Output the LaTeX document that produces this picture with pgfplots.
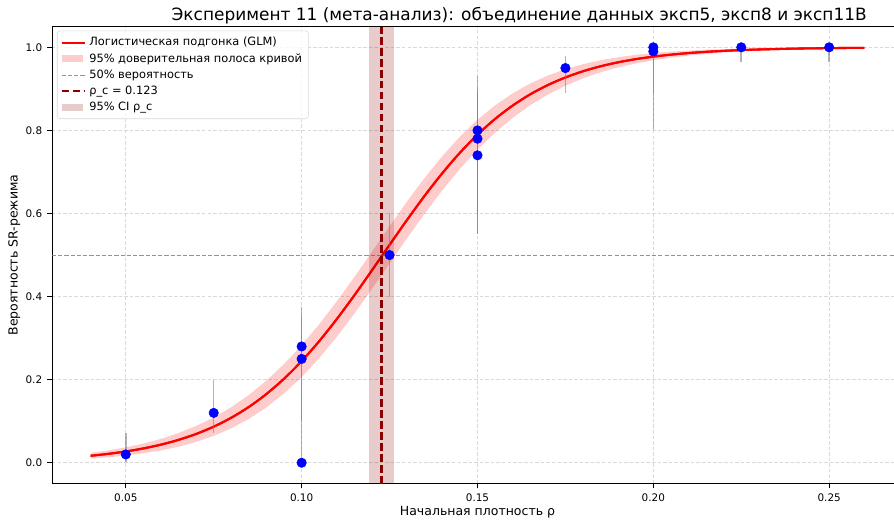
\documentclass[border=0pt]{standalone}
\usepackage{fontspec}
\setmainfont{DejaVu Sans}
\usepackage{pgfplots}
\usepackage{pgfplotstable}
\pgfplotsset{compat=1.18}
\usepgfplotslibrary{fillbetween}
\definecolor{dred}{RGB}{139,0,0}
\pgfplotstableread{
x p lo hi
0.040 0.0168 0.0100 0.0236
0.045 0.0214 0.0131 0.0297
0.050 0.0272 0.0173 0.0371
0.055 0.0345 0.0227 0.0463
0.060 0.0436 0.0297 0.0575
0.065 0.0551 0.0386 0.0716
0.070 0.0693 0.0501 0.0885
0.075 0.0869 0.0647 0.1091
0.080 0.1084 0.0830 0.1338
0.085 0.1344 0.1056 0.1632
0.090 0.1656 0.1334 0.1978
0.095 0.2023 0.1670 0.2376
0.100 0.2447 0.2064 0.2830
0.105 0.2927 0.2520 0.3334
0.110 0.3459 0.3031 0.3887
0.115 0.4032 0.3592 0.4472
0.120 0.4633 0.4185 0.5081
0.125 0.5245 0.4798 0.5692
0.130 0.5849 0.5405 0.6293
0.135 0.6429 0.5999 0.6859
0.140 0.6970 0.6558 0.7382
0.145 0.7461 0.7073 0.7849
0.150 0.7896 0.7536 0.8256
0.155 0.8275 0.7947 0.8603
0.160 0.8597 0.8302 0.8892
0.165 0.8868 0.8606 0.9130
0.170 0.9091 0.8862 0.9320
0.175 0.9274 0.9075 0.9473
0.180 0.9423 0.9253 0.9593
0.185 0.9543 0.9398 0.9688
0.190 0.9639 0.9517 0.9761
0.195 0.9715 0.9611 0.9819
0.200 0.9775 0.9688 0.9862
0.205 0.9823 0.9750 0.9896
0.210 0.9861 0.9801 0.9921
0.215 0.9891 0.9841 0.9941
0.220 0.9914 0.9874 0.9954
0.225 0.9933 0.9900 0.9966
0.230 0.9947 0.9920 0.9974
0.240 0.9968 0.9950 0.9986
0.250 0.9980 0.9968 0.9992
0.260 0.9988 0.9980 0.9996
}\curve
\pgfplotstableread{
x y ep em
0.050 0.02 0.052 0.017
0.075 0.12 0.080 0.048
0.100 0.28 0.095 0.280
0.100 0.25 0.100 0.150
0.100 0.00 0.000 0.000
0.125 0.50 0.100 0.100
0.150 0.80 0.130 0.200
0.150 0.78 0.120 0.230
0.150 0.74 0.150 0.190
0.175 0.95 0.030 0.060
0.200 1.00 0.000 0.200
0.200 0.99 0.005 0.100
0.225 1.00 0.000 0.036
0.250 1.00 0.000 0.036
}\pts
\begin{document}
\begin{tikzpicture}
\begin{axis}[
  scale only axis, width=612.7pt, height=329pt,
  xmin=0.029, xmax=0.271, ymin=-0.05, ymax=1.05,
  xtick={0.05,0.10,0.15,0.20,0.25},
  ytick={0,0.2,0.4,0.6,0.8,1.0},
  xticklabel style={/pgf/number format/.cd, fixed, fixed zerofill, precision=2},
  yticklabel style={/pgf/number format/.cd, fixed, fixed zerofill, precision=1},
  /pgf/number format/assume math mode=true,
  tick label style={font=\fontsize{7.5}{9}\selectfont},
  tick align=outside, tick pos=left,
  major tick length=3.5pt,
  every tick/.style={black, line width=0.6pt},
  axis line style={line width=0.6pt},
  grid=major,
  grid style={gray!30, line width=0.5pt, dash pattern=on 2.5pt off 1.5pt},
  title={Эксперимент 11 (мета-анализ): объединение данных эксп5, эксп8 и эксп11B},
  title style={font=\fontsize{12.2}{13}\selectfont, at={(0.549,1)}, yshift=-8pt},
  xlabel={Начальная плотность ρ},
  ylabel={Вероятность SR-режима},
  label style={font=\fontsize{9}{11}\selectfont},
  xlabel style={yshift=3pt},
  ylabel style={yshift=-3pt},
  legend style={at={(0,1)}, anchor=north west, xshift=3.6pt, yshift=-3pt,
    font=\fontsize{8.2}{9}\selectfont, draw=gray!30, rounded corners=2pt,
    fill=white, fill opacity=0.8, text opacity=1, row sep=0pt,
    inner sep=2.5pt},
  legend cell align=left,
  areaimg/.style={legend image code/.code={
    \path[##1, draw=none, sharp corners] (0pt,-2.5pt) rectangle (15pt,2.5pt);}},
]
% curve (legend, redrawn on top later)
\addplot[red, line width=1.5pt, smooth] table[x=x, y=p] {\curve};
\addlegendentry{Логистическая подгонка (GLM)}
% band
\addplot[forget plot, name path=lo, draw=none] table[x=x, y=lo] {\curve};
\addplot[forget plot, name path=hi, draw=none] table[x=x, y=hi] {\curve};
\addplot[fill=red, fill opacity=0.2, draw=none, areaimg] fill between[of=hi and lo];
\addlegendentry{95\% доверительная полоса кривой}
\addplot[forget plot, red, line width=1.5pt, smooth] table[x=x, y=p] {\curve};
% 50% line
\addplot[gray, draw opacity=0.85, line width=0.7pt, dash pattern=on 3pt off 1.5pt] coordinates {(0.029,0.5) (0.271,0.5)};
\addlegendentry{50\% вероятность}
% rho_c
\addplot[dred, line width=1.5pt, dash pattern=on 5.5pt off 2.4pt] coordinates {(0.1227,-0.05) (0.1227,1.05)};
\addlegendentry{ρ\_c = 0.123}
% CI of rho_c
\addplot[draw=none, fill=dred, fill opacity=0.2, areaimg] coordinates {(0.1192,-0.05) (0.1262,-0.05) (0.1262,1.05) (0.1192,1.05)} \closedcycle;
\addlegendentry{95\% CI ρ\_c}
% error bars
\addplot[forget plot, draw=none, mark=none,
  error bars/.cd, y dir=both, y explicit, error mark=none,
  error bar style={draw=gray, draw opacity=0.6, line width=1.1pt}]
  table[x=x, y=y, y error plus=ep, y error minus=em] {\pts};
% points
\addplot[forget plot, only marks, mark=*, mark size=3.4pt, blue, mark options={draw=blue, fill=blue}]
  table[x=x, y=y] {\pts};
\end{axis}
\pgfresetboundingbox
\path[use as bounding box] (-37.4pt,-26.6pt) rectangle (606.2pt,348.1pt);
\end{tikzpicture}
\end{document}
